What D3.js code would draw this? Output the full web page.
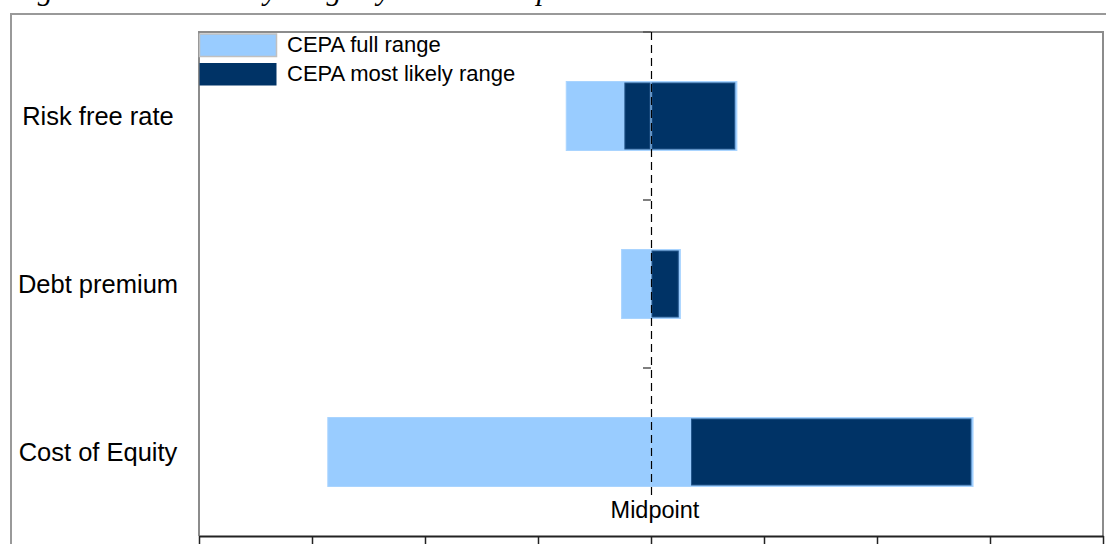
<!DOCTYPE html>
<html>
<head>
<meta charset="utf-8">
<script src="https://cdn.jsdelivr.net/npm/d3@7/dist/d3.min.js"></script>
<style>
  body { margin: 0; background: #fff; }
  svg { display: block; font-family: "Liberation Sans", Arial, sans-serif; }
</style>
</head>
<body>
<script>
// chart data
const categories = ["Risk free rate", "Debt premium", "Cost of Equity"];
const fullLow = [-0.75, -0.26, -2.86];
const fullHigh = [0.76, 0.26, 2.85];
const likelyLow = [-0.24, 0.0, 0.35];
const likelyHigh = [0.75, 0.25, 2.84];
const seriesNames = ["CEPA full range", "CEPA most likely range"];
const seriesColors = ["#99CCFF", "#003366"];
const xTicks = [-4, -3, -2, -1, 0, 1, 2, 3, 4];
const midpointLabel = "Midpoint";
const titleText = "Figure 4.3: Sensitivity range by WACC component";

const W = 1106, H = 544;
const plotL = 199, plotR = 1103, plotT = 32, plotB = 536;

let svg = d3.select("body").append("svg").attr("width", W).attr("height", H);
svg.append("rect").attr("width", W).attr("height", H).attr("fill", "#fff");

// title, mostly cut off above the picture (as in the source)
svg.append("text")
    .attr("x", 11).attr("y", 0)
    .style("font-family", "'Liberation Serif', 'DejaVu Serif', serif")
    .style("font-style", "italic")
    .style("font-size", "30px")
    .text(titleText);

// outer frame
svg.append("path")
    .attr("d", `M11,${H + 5}V14H${W + 5}`)
    .attr("fill", "none").attr("stroke", "#999").attr("stroke-width", 2);

let x = d3.scaleLinear().domain([xTicks[0], xTicks[xTicks.length - 1]]).range([plotL, plotR]);
let y = d3.scaleBand().domain(categories).range([plotT, plotB]).padding(0);
const barH = 69;

// plot area border
svg.append("path")
    .attr("d", `M${plotL},${plotB}V${plotT}H${plotR}V${plotB}`)
    .attr("fill", "none").attr("stroke", "#8c8c8c").attr("stroke-width", 2);

// split a range at the midpoint (as the stacked source does)
function pieces(lo, hi) {
    return (lo < 0 && hi > 0) ? [[lo, 0], [0, hi]] : [[lo, hi]];
}

let fullSegs = [], likelySegs = [];
categories.forEach((c, i) => {
    pieces(fullLow[i], fullHigh[i]).forEach(p => fullSegs.push({cat: c, lo: p[0], hi: p[1]}));
    pieces(likelyLow[i], likelyHigh[i]).forEach(p => likelySegs.push({cat: c, lo: p[0], hi: p[1]}));
});

const yc = c => y(c) + y.bandwidth() / 2;

svg.selectAll(null).data(fullSegs).enter().append("rect")
    .attr("x", d => x(d.lo))
    .attr("y", d => yc(d.cat) - barH / 2)
    .attr("width", d => x(d.hi) - x(d.lo))
    .attr("height", barH)
    .attr("fill", seriesColors[0])
    .attr("stroke", "#a9d4ff").attr("stroke-width", 1);

svg.selectAll(null).data(likelySegs).enter().append("rect")
    .attr("x", d => x(d.lo) + 1)
    .attr("y", d => yc(d.cat) - barH / 2 + 1.5)
    .attr("width", d => x(d.hi) - x(d.lo) - 2)
    .attr("height", barH - 3)
    .attr("fill", seriesColors[1])
    .attr("stroke", "#24568a").attr("stroke-width", 1);

// midpoint dashed line
svg.append("line")
    .attr("x1", x(0) + 0.5).attr("x2", x(0) + 0.5)
    .attr("y1", plotT).attr("y2", 498)
    .attr("stroke", "#000").attr("stroke-width", 1.2)
    .attr("stroke-dasharray", "8,5");

// category boundary ticks on the midpoint line
svg.selectAll(null).data(categories).enter().append("line")
    .attr("x1", x(0) - 8).attr("x2", x(0))
    .attr("y1", d => y(d)).attr("y2", d => y(d))
    .attr("stroke", "#555").attr("stroke-width", 1.5);

svg.append("text")
    .attr("x", x(0) + 4).attr("y", 518)
    .attr("text-anchor", "middle")
    .style("font-size", "23.5px")
    .text(midpointLabel);

// category labels
svg.selectAll(null).data(categories).enter().append("text")
    .attr("x", 98)
    .attr("y", d => yc(d) + 9)
    .attr("text-anchor", "middle")
    .style("font-size", "25.5px")
    .text(d => d);

// x axis
let xAxis = svg.append("g")
    .attr("transform", `translate(0,${plotB})`)
    .call(d3.axisBottom(x).tickValues(xTicks).tickSize(12).tickSizeOuter(0).tickFormat(""));
xAxis.select(".domain").attr("stroke", "#222").attr("stroke-width", 2);
xAxis.selectAll(".tick line").attr("stroke", "#222").attr("stroke-width", 1.5);

// legend
let legend = svg.append("g");
seriesNames.forEach((name, i) => {
    let ly = 34 + i * 29;
    legend.append("rect")
        .attr("x", 199.5).attr("y", ly)
        .attr("width", 77).attr("height", 22.5)
        .attr("fill", seriesColors[i])
        .attr("stroke", i === 0 ? "#c0c0c0" : "none").attr("stroke-width", 1.5);
    legend.append("text")
        .attr("x", 287).attr("y", ly + 18)
        .style("font-size", "22px")
        .text(name);
});
</script>
</body>
</html>
